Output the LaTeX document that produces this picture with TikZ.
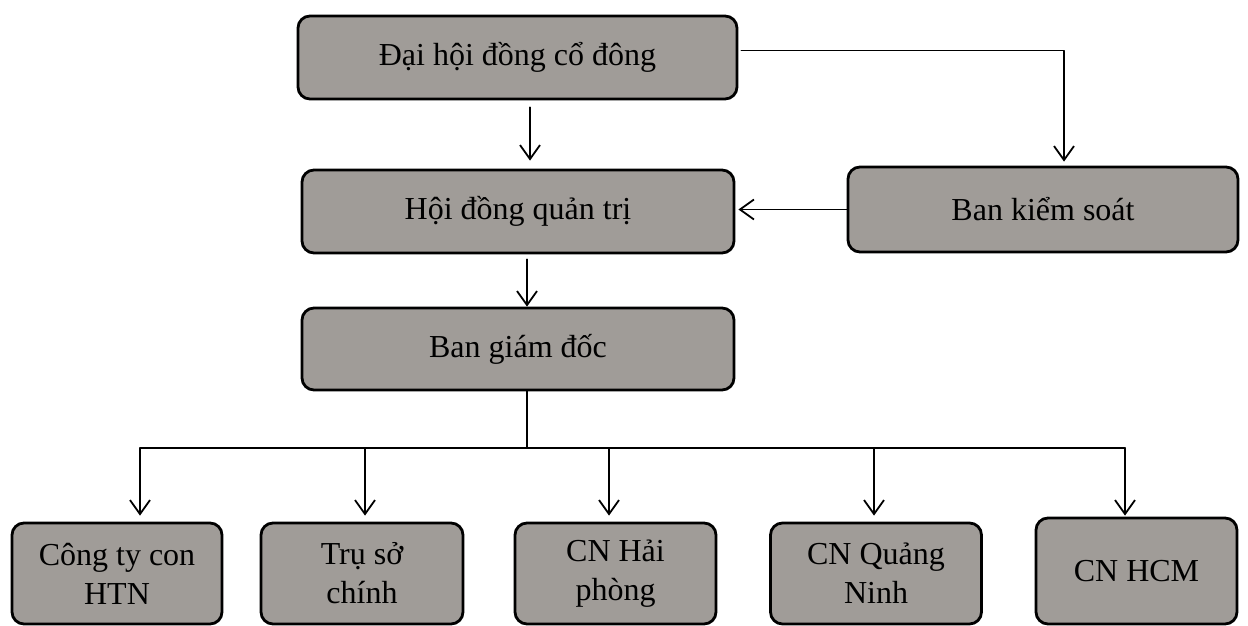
\documentclass[tikz,border=0pt]{standalone}
\usepackage{fontspec}
\setmainfont{Liberation Serif}
\usetikzlibrary{arrows.meta}
\definecolor{boxgray}{RGB}{160,156,152}
\begin{document}
\begin{tikzpicture}[x=.5pt,y=-.5pt,line join=round,line cap=round,
 box/.style={draw,line width=1.4pt,rounded corners=6pt,fill=boxgray,align=center,inner sep=0pt,
  font=\fontsize{16}{19.5}\selectfont},
 arr/.style={-{Straight Barb[length=7pt,width=10pt]},line width=.9pt}]
 \useasboundingbox (0,0) rectangle (1248,626);
 % upper boxes
 \node[box,minimum width=219.5pt,minimum height=41.5pt] (dh) at (517.5,57.5) {Đại hội đồng cổ đông};
 \node[box,minimum width=216pt,minimum height=41.5pt] (hd) at (518,211.5) {Hội đồng quản trị};
 \node[box,minimum width=195pt,minimum height=42.5pt] (bks) at (1043,209.5) {Ban kiểm soát};
 \node[box,minimum width=216pt,minimum height=41pt] (bgd) at (518,349) {Ban giám đốc};
 % lower boxes
 \node[box,minimum width=105pt,minimum height=50.5pt] (cty) at (117,573.5) {Công ty con\\HTN};
 \node[box,minimum width=101pt,minimum height=50.5pt] (tru) at (362,573.5) {Trụ sở\\chính};
 \node[box,minimum width=100.5pt,minimum height=50.5pt] (hp) at (615.5,573.5) {CN Hải\\phòng};
 \node[box,minimum width=105.5pt,minimum height=50.5pt] (qn) at (876,573.5) {CN Quảng\\Ninh};
 \node[box,minimum width=100.5pt,minimum height=53pt] (hcm) at (1136.5,571) {CN HCM};
 % connectors
 \coordinate (ax) at (530,0);
 \coordinate (bx) at (527,0);
 \coordinate (kx) at (1064,0);
 \draw[arr] ([yshift=-3.5pt]dh.south -| ax) -- ([yshift=4pt]hd.north -| ax);
 \draw[arr] ([shift={(1.5pt,3.5pt)}]dh.east) -| ([yshift=2pt]bks.north -| kx);
 \draw[arr] (bks.west) -- ([xshift=1.5pt]hd.east |- bks.west);
 \draw[arr] ([yshift=-2.5pt]hd.south -| bx) -- (bgd.north -| bx);
 \coordinate (busl) at (140,448);
 \coordinate (busr) at (1125,448);
 \draw[line width=.9pt] (bgd.south -| bx) -- (busl -| bx);
 \draw[line width=.9pt] (busl) -- (busr);
 \foreach \n/\x/\s in {cty/140/3pt,tru/365/3pt,hp/609/3pt,qn/874/3pt,hcm/1125/.5pt}{
  \coordinate (t) at (\x,448);
  \draw[arr] (t) -- ([yshift=\s]t |- \n.north);
 }
\end{tikzpicture}
\end{document}
